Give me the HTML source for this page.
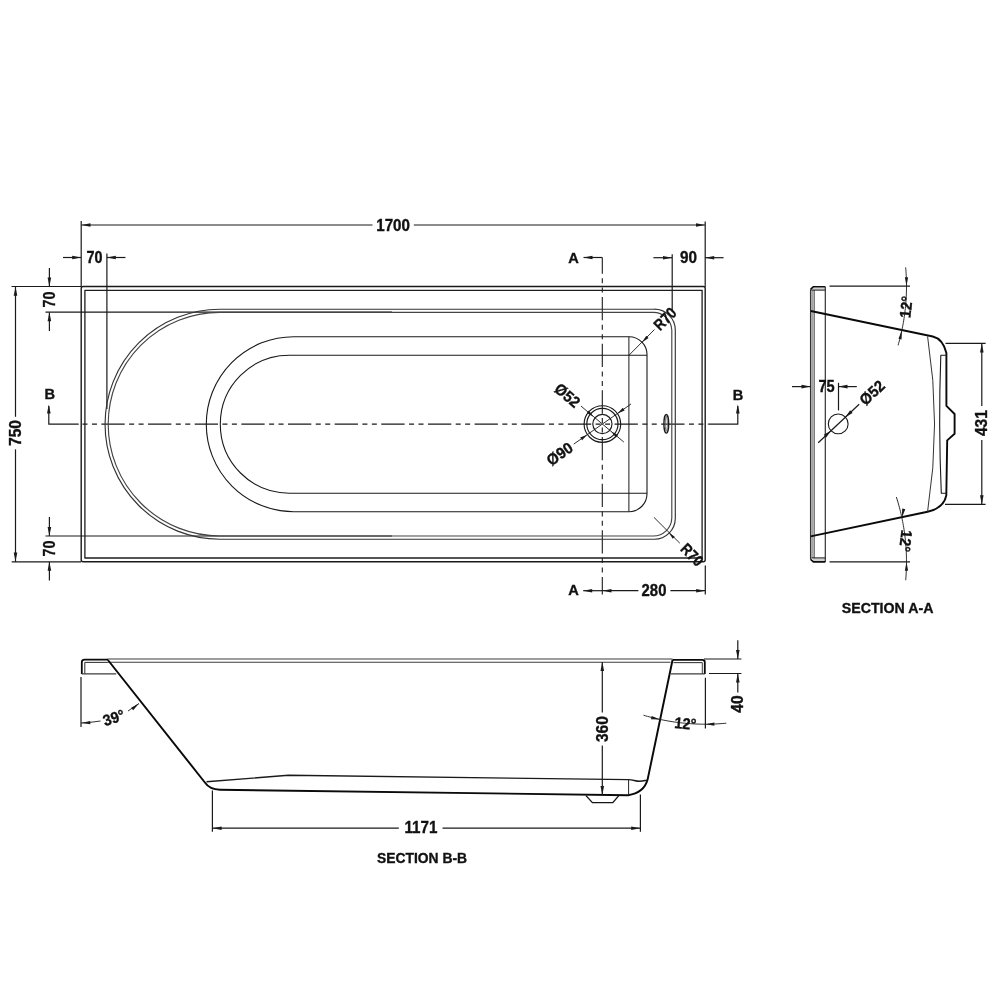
<!DOCTYPE html>
<html><head><meta charset="utf-8"><style>
html,body{margin:0;padding:0;background:#fff;width:1000px;height:1000px;overflow:hidden}
svg{display:block}
text{font-family:"Liberation Sans",sans-serif}
.t{will-change:transform}
</style></head><body>
<svg width="1000" height="1000" viewBox="0 0 1000 1000" style="will-change:transform">
<rect width="1000" height="1000" fill="#fff"/>
<line x1="81.20" y1="221.00" x2="81.20" y2="287.00" stroke="#1a1a1a" stroke-width="1.2" />
<line x1="705.20" y1="221.40" x2="705.20" y2="287.00" stroke="#1a1a1a" stroke-width="1.2" />
<line x1="81.50" y1="225.00" x2="372.50" y2="225.00" stroke="#1a1a1a" stroke-width="1.2" />
<line x1="413.80" y1="225.00" x2="705.00" y2="225.00" stroke="#1a1a1a" stroke-width="1.2" />
<path d="M81.50,225.00 L90.50,223.20 L90.50,226.80 Z" fill="#1a1a1a" stroke="none"/>
<path d="M705.00,225.00 L696.00,226.80 L696.00,223.20 Z" fill="#1a1a1a" stroke="none"/>
<text transform="translate(393.10,225.50) rotate(0)" x="0" y="5.33" text-anchor="middle" font-size="15.6" font-weight="bold" fill="#111" stroke="#111" stroke-width="0.35" textLength="33.7" lengthAdjust="spacingAndGlyphs">1700</text>
<line x1="106.90" y1="253.50" x2="106.90" y2="409.00" stroke="#1a1a1a" stroke-width="1.2" />
<line x1="63.00" y1="257.50" x2="81.00" y2="257.50" stroke="#1a1a1a" stroke-width="1.2" />
<path d="M81.20,257.50 L72.20,259.30 L72.20,255.70 Z" fill="#1a1a1a" stroke="none"/>
<line x1="107.00" y1="257.50" x2="125.50" y2="257.50" stroke="#1a1a1a" stroke-width="1.2" />
<path d="M106.80,257.50 L115.80,255.70 L115.80,259.30 Z" fill="#1a1a1a" stroke="none"/>
<text transform="translate(94.50,257.80) rotate(0)" x="0" y="5.33" text-anchor="middle" font-size="15.6" font-weight="bold" fill="#111" stroke="#111" stroke-width="0.35" textLength="16" lengthAdjust="spacingAndGlyphs">70</text>
<line x1="672.20" y1="254.20" x2="672.20" y2="312.00" stroke="#1a1a1a" stroke-width="1.2" />
<line x1="653.40" y1="257.70" x2="672.00" y2="257.70" stroke="#1a1a1a" stroke-width="1.2" />
<path d="M672.00,257.70 L663.00,259.50 L663.00,255.90 Z" fill="#1a1a1a" stroke="none"/>
<line x1="705.00" y1="257.70" x2="723.60" y2="257.70" stroke="#1a1a1a" stroke-width="1.2" />
<path d="M705.20,257.70 L714.20,255.90 L714.20,259.50 Z" fill="#1a1a1a" stroke="none"/>
<text transform="translate(688.50,257.80) rotate(0)" x="0" y="5.33" text-anchor="middle" font-size="15.6" font-weight="bold" fill="#111" stroke="#111" stroke-width="0.35" textLength="17" lengthAdjust="spacingAndGlyphs">90</text>
<text transform="translate(573.40,257.60) rotate(0)" x="0" y="4.98" text-anchor="middle" font-size="14.6" font-weight="bold" fill="#111" stroke="#111" stroke-width="0.35">A</text>
<line x1="583.50" y1="257.50" x2="602.30" y2="257.50" stroke="#1a1a1a" stroke-width="1.2" />
<path d="M583.50,257.50 L592.50,255.70 L592.50,259.30 Z" fill="#1a1a1a" stroke="none"/>
<text transform="translate(573.60,590.40) rotate(0)" x="0" y="4.98" text-anchor="middle" font-size="14.6" font-weight="bold" fill="#111" stroke="#111" stroke-width="0.35">A</text>
<line x1="583.20" y1="590.70" x2="602.30" y2="590.70" stroke="#1a1a1a" stroke-width="1.2" />
<path d="M583.20,590.70 L592.20,588.90 L592.20,592.50 Z" fill="#1a1a1a" stroke="none"/>
<line x1="602.30" y1="257.50" x2="602.30" y2="594.40" stroke="#1a1a1a" stroke-width="1.1" stroke-dasharray="23.3 4.45 5 4.45 5 4.45" stroke-dashoffset="7.1"/>
<line x1="602.30" y1="590.70" x2="638.40" y2="590.70" stroke="#1a1a1a" stroke-width="1.2" />
<line x1="670.40" y1="590.70" x2="705.00" y2="590.70" stroke="#1a1a1a" stroke-width="1.2" />
<path d="M602.50,590.70 L611.50,588.90 L611.50,592.50 Z" fill="#1a1a1a" stroke="none"/>
<path d="M705.20,590.70 L696.20,592.50 L696.20,588.90 Z" fill="#1a1a1a" stroke="none"/>
<line x1="705.30" y1="565.60" x2="705.30" y2="594.40" stroke="#1a1a1a" stroke-width="1.2" />
<text transform="translate(654.00,590.40) rotate(0)" x="0" y="5.33" text-anchor="middle" font-size="15.6" font-weight="bold" fill="#111" stroke="#111" stroke-width="0.35" textLength="24.8" lengthAdjust="spacingAndGlyphs">280</text>
<line x1="11.50" y1="286.50" x2="81.20" y2="286.50" stroke="#1a1a1a" stroke-width="1.2" />
<line x1="45.50" y1="312.20" x2="392.00" y2="312.20" stroke="#1a1a1a" stroke-width="1.2" />
<line x1="49.40" y1="268.00" x2="49.40" y2="286.50" stroke="#1a1a1a" stroke-width="1.2" />
<path d="M49.40,286.50 L47.60,277.50 L51.20,277.50 Z" fill="#1a1a1a" stroke="none"/>
<line x1="49.40" y1="312.50" x2="49.40" y2="331.00" stroke="#1a1a1a" stroke-width="1.2" />
<path d="M49.40,312.30 L51.20,321.30 L47.60,321.30 Z" fill="#1a1a1a" stroke="none"/>
<text transform="translate(49.50,299.50) rotate(-90)" x="0" y="5.33" text-anchor="middle" font-size="15.6" font-weight="bold" fill="#111" stroke="#111" stroke-width="0.35" textLength="16" lengthAdjust="spacingAndGlyphs">70</text>
<line x1="45.50" y1="536.00" x2="392.00" y2="536.00" stroke="#1a1a1a" stroke-width="1.2" />
<line x1="11.70" y1="561.80" x2="81.20" y2="561.80" stroke="#1a1a1a" stroke-width="1.2" />
<line x1="49.40" y1="517.00" x2="49.40" y2="536.00" stroke="#1a1a1a" stroke-width="1.2" />
<path d="M49.40,536.00 L47.60,527.00 L51.20,527.00 Z" fill="#1a1a1a" stroke="none"/>
<line x1="49.40" y1="562.00" x2="49.40" y2="580.60" stroke="#1a1a1a" stroke-width="1.2" />
<path d="M49.40,561.80 L51.20,570.80 L47.60,570.80 Z" fill="#1a1a1a" stroke="none"/>
<text transform="translate(49.45,548.50) rotate(-90)" x="0" y="5.33" text-anchor="middle" font-size="15.6" font-weight="bold" fill="#111" stroke="#111" stroke-width="0.35" textLength="16" lengthAdjust="spacingAndGlyphs">70</text>
<line x1="15.50" y1="287.00" x2="15.50" y2="416.80" stroke="#1a1a1a" stroke-width="1.2" />
<line x1="15.50" y1="449.30" x2="15.50" y2="561.80" stroke="#1a1a1a" stroke-width="1.2" />
<path d="M15.50,286.70 L17.30,295.70 L13.70,295.70 Z" fill="#1a1a1a" stroke="none"/>
<path d="M15.50,561.60 L13.70,552.60 L17.30,552.60 Z" fill="#1a1a1a" stroke="none"/>
<text transform="translate(15.30,433.00) rotate(-90)" x="0" y="5.33" text-anchor="middle" font-size="15.6" font-weight="bold" fill="#111" stroke="#111" stroke-width="0.35" textLength="26" lengthAdjust="spacingAndGlyphs">750</text>
<text transform="translate(49.75,394.20) rotate(0)" x="0" y="4.98" text-anchor="middle" font-size="14.6" font-weight="bold" fill="#111" stroke="#111" stroke-width="0.35">B</text>
<path d="M48.8,406 L48.8,424.2 L78.7,424.2" fill="none" stroke="#1a1a1a" stroke-width="1.2" stroke-linejoin="round" />
<path d="M48.80,404.50 L50.60,413.50 L47.00,413.50 Z" fill="#1a1a1a" stroke="none"/>
<text transform="translate(738.10,394.90) rotate(0)" x="0" y="4.98" text-anchor="middle" font-size="14.6" font-weight="bold" fill="#111" stroke="#111" stroke-width="0.35">B</text>
<path d="M737.8,406 L737.8,424.2 L708.4,424.2" fill="none" stroke="#1a1a1a" stroke-width="1.2" stroke-linejoin="round" />
<path d="M737.80,404.50 L739.60,413.50 L736.00,413.50 Z" fill="#1a1a1a" stroke="none"/>
<line x1="78.70" y1="424.20" x2="708.40" y2="424.20" stroke="#1a1a1a" stroke-width="1.3" stroke-dasharray="23.3 4.45 5 4.45 5 4.45" stroke-dashoffset="23.95"/>
<path d="M83.2,286.5 L703.2,286.5 Q705.2,286.5 705.2,288.5 L705.2,559.8 Q705.2,561.8 703.2,561.8 L83.2,561.8 Q81.2,561.8 81.2,559.8 L81.2,288.5 Q81.2,286.5 83.2,286.5 Z" fill="none" stroke="#1a1a1a" stroke-width="1.4" stroke-linejoin="round" />
<path d="M84.9,290.3 L702.1,290.3 L702.1,558 L84.9,558 Z" fill="none" stroke="#1e1e1e" stroke-width="1.3" stroke-linejoin="round" />
<path d="M220,309.2 A115,115 0 0 0 220,539.2 L654,539.2 A21,21 0 0 0 675.3,518 L675.3,330 A21,21 0 0 0 654,309.2 Z" fill="none" stroke="#333" stroke-width="1.15" stroke-linejoin="round" />
<path d="M220,312.4 A111.8,111.8 0 0 0 220,536 L653,536 A18.5,18.5 0 0 0 671.8,518 L671.8,330 A18.5,18.5 0 0 0 653,312.4 Z" fill="none" stroke="#444" stroke-width="1.15" stroke-linejoin="round" />
<path d="M293.8,336.7 A87.5,87.5 0 0 0 293.8,511.7 L629,511.7 A18,18 0 0 0 647,493.2 L647,355.3 A18,18 0 0 0 629,336.7 Z" fill="none" stroke="#1a1a1a" stroke-width="1.1" stroke-linejoin="round" />
<path d="M289.3,355.2 A69,69 0 0 0 289.3,493.2 L647,493.2 M647,355.2 L289.3,355.2" fill="none" stroke="#1a1a1a" stroke-width="1.1" stroke-linejoin="round" />
<line x1="628.90" y1="336.70" x2="628.90" y2="511.70" stroke="#1a1a1a" stroke-width="1.0" />
<line x1="628.90" y1="355.30" x2="654.50" y2="329.50" stroke="#1a1a1a" stroke-width="0.9" />
<path d="M641.80,342.60 L646.33,335.81 L648.59,338.07 Z" fill="#1a1a1a" stroke="none"/>
<text transform="translate(665.00,319.00) rotate(-45)" x="0" y="5.33" text-anchor="middle" font-size="15.6" font-weight="bold" fill="#111" stroke="#111" stroke-width="0.35" textLength="25" lengthAdjust="spacingAndGlyphs">R70</text>
<line x1="653.90" y1="517.30" x2="679.80" y2="543.20" stroke="#1a1a1a" stroke-width="0.9" />
<path d="M668.80,532.70 L674.74,536.66 L672.76,538.64 Z" fill="#1a1a1a" stroke="none"/>
<text transform="translate(692.00,554.80) rotate(45)" x="0" y="5.33" text-anchor="middle" font-size="15.6" font-weight="bold" fill="#111" stroke="#111" stroke-width="0.35" textLength="25" lengthAdjust="spacingAndGlyphs">R70</text>
<circle cx="602.4" cy="424.05" r="18.3" fill="none" stroke="#1a1a1a" stroke-width="1.15"/>
<circle cx="602.4" cy="424.05" r="15.6" fill="none" stroke="#1a1a1a" stroke-width="1.15"/>
<circle cx="602.4" cy="424.05" r="9.6" fill="none" stroke="#1a1a1a" stroke-width="1.15"/>
<line x1="580.95" y1="406.05" x2="623.85" y2="442.05" stroke="#1a1a1a" stroke-width="0.9" />
<path d="M593.59,416.66 L586.82,413.06 L588.87,410.61 Z" fill="#1a1a1a" stroke="none"/>
<path d="M611.21,431.44 L617.98,435.04 L615.93,437.49 Z" fill="#1a1a1a" stroke="none"/>
<line x1="573.73" y1="444.13" x2="631.07" y2="403.97" stroke="#1a1a1a" stroke-width="0.9" />
<path d="M617.55,413.44 L622.72,407.74 L624.67,410.53 Z" fill="#1a1a1a" stroke="none"/>
<path d="M587.25,434.66 L582.08,440.36 L580.13,437.57 Z" fill="#1a1a1a" stroke="none"/>
<text transform="translate(567.30,395.50) rotate(40)" x="0" y="5.33" text-anchor="middle" font-size="15.6" font-weight="bold" fill="#111" stroke="#111" stroke-width="0.35" textLength="28" lengthAdjust="spacingAndGlyphs">Ø52</text>
<text transform="translate(559.60,454.00) rotate(-35)" x="0" y="5.33" text-anchor="middle" font-size="15.6" font-weight="bold" fill="#111" stroke="#111" stroke-width="0.35" textLength="28" lengthAdjust="spacingAndGlyphs">Ø90</text>
<ellipse cx="666.3" cy="423.8" rx="2.4" ry="9.3" fill="none" stroke="#1a1a1a" stroke-width="1.4"/>
<ellipse cx="666.3" cy="423.8" rx="1.0" ry="7.5" fill="none" stroke="#555" stroke-width="0.8"/>
<rect x="811.2" y="289.5" width="2.6" height="268.5" fill="#d6d6d6"/>
<rect x="813" y="287.6" width="12.3" height="2.0" fill="#d0d0d0"/>
<rect x="813" y="558.4" width="12.3" height="2.6" fill="#d0d0d0"/>
<line x1="810.60" y1="289.30" x2="810.60" y2="559.40" stroke="#333" stroke-width="1.3" />
<line x1="825.30" y1="286.80" x2="825.30" y2="561.90" stroke="#2a2a2a" stroke-width="1.15" />
<path d="M825.3,286.8 L813.2,286.8 L810.6,289.3" fill="none" stroke="#0d0d0d" stroke-width="1.6" stroke-linejoin="round" />
<path d="M810.6,559.4 L813.4,561.9 L825.3,561.9" fill="none" stroke="#0d0d0d" stroke-width="1.6" stroke-linejoin="round" />
<line x1="812.30" y1="290.00" x2="812.30" y2="558.00" stroke="#888" stroke-width="0.8" />
<line x1="814.20" y1="290.00" x2="814.20" y2="558.00" stroke="#444" stroke-width="1.0" />
<line x1="811.50" y1="290.10" x2="825.30" y2="290.10" stroke="#222" stroke-width="1.1" />
<line x1="811.50" y1="557.90" x2="825.30" y2="557.90" stroke="#222" stroke-width="1.1" />
<path d="M810.8,311 L932.8,336.5 Q943,339 946.4,353 L946.4,405.8 L954.6,414 L954.6,433.8 L947.2,440.4 L946.3,495.4 Q944,508 927.6,511.8 L810.7,536.4" fill="none" stroke="#0a0a0a" stroke-width="1.9" stroke-linejoin="round" />
<path d="M927.6,336.5 Q941.5,424 927.6,511.6" fill="none" stroke="#333" stroke-width="1.0" stroke-linejoin="round" />
<path d="M946.4,355.2 L940.8,355.2 Q938.3,424 941.3,493.2 L946.3,493.2" fill="none" stroke="#1a1a1a" stroke-width="1.1" stroke-linejoin="round" />
<line x1="829.50" y1="286.20" x2="910.00" y2="286.20" stroke="#1a1a1a" stroke-width="1.2" />
<line x1="829.50" y1="561.80" x2="910.00" y2="561.80" stroke="#1a1a1a" stroke-width="1.2" />
<path d="M905.66,267.35 L905.83,269.32 L905.97,271.28 L906.10,273.25 L906.22,275.22 L906.31,277.18 L906.38,279.15 L906.44,281.12 L906.48,283.09 L906.50,285.06 L906.50,287.03 L906.48,289.00 L906.45,290.97 L906.39,292.94 L906.32,294.91 L906.23,296.88 L906.12,298.85 L906.00,300.81 L905.85,302.78 L905.69,304.74 L905.51,306.70 L905.31,308.66 L905.09,310.62 L904.85,312.58 L904.60,314.53 L904.33,316.48 L904.04,318.43 L903.73,320.38 L903.40,322.32 L903.06,324.26 L902.69,326.20 L902.31,328.13 L901.91,330.06 L901.50,331.99 L901.06,333.91 L900.61,335.83 L900.14,337.74 L899.65,339.65 L899.15,341.55 L898.62,343.45 L898.08,345.35" fill="none" stroke="#1a1a1a" stroke-width="0.9" stroke-linejoin="round" />
<path d="M906.50,286.20 L904.90,277.20 L908.10,277.20 Z" fill="#1a1a1a" stroke="none"/>
<path d="M901.87,330.28 L901.56,339.41 L898.43,338.75 Z" fill="#1a1a1a" stroke="none"/>
<text transform="translate(906.20,307.00) rotate(-84)" x="0" y="5.33" text-anchor="middle" font-size="15.6" font-weight="bold" fill="#111" stroke="#111" stroke-width="0.35" textLength="22" lengthAdjust="spacingAndGlyphs">12°</text>
<path d="M896.35,496.99 L896.99,499.00 L897.60,501.02 L898.20,503.04 L898.77,505.07 L899.32,507.11 L899.86,509.15 L900.37,511.19 L900.86,513.25 L901.34,515.30 L901.79,517.36 L902.22,519.43 L902.63,521.49 L903.02,523.57 L903.39,525.64 L903.74,527.72 L904.07,529.81 L904.38,531.89 L904.67,533.98 L904.93,536.07 L905.18,538.17 L905.40,540.27 L905.61,542.36 L905.79,544.47 L905.95,546.57 L906.09,548.67 L906.21,550.78 L906.31,552.89 L906.39,554.99 L906.45,557.10 L906.48,559.21 L906.50,561.32 L906.49,563.43 L906.47,565.54 L906.42,567.65 L906.35,569.75 L906.26,571.86 L906.15,573.97 L906.02,576.07 L905.87,578.18 L905.69,580.28" fill="none" stroke="#1a1a1a" stroke-width="0.9" stroke-linejoin="round" />
<path d="M906.50,561.80 L908.10,570.80 L904.90,570.80 Z" fill="#1a1a1a" stroke="none"/>
<path d="M901.87,517.72 L902.17,508.59 L905.30,509.25 Z" fill="#1a1a1a" stroke="none"/>
<text transform="translate(905.60,541.00) rotate(96)" x="0" y="5.33" text-anchor="middle" font-size="15.6" font-weight="bold" fill="#111" stroke="#111" stroke-width="0.35" textLength="22" lengthAdjust="spacingAndGlyphs">12°</text>
<line x1="945.50" y1="343.40" x2="985.60" y2="343.40" stroke="#1a1a1a" stroke-width="1.2" />
<line x1="945.00" y1="504.40" x2="985.60" y2="504.40" stroke="#1a1a1a" stroke-width="1.2" />
<line x1="981.80" y1="344.00" x2="981.80" y2="406.00" stroke="#1a1a1a" stroke-width="1.2" />
<line x1="981.80" y1="440.00" x2="981.80" y2="504.00" stroke="#1a1a1a" stroke-width="1.2" />
<path d="M981.80,343.60 L983.60,352.60 L980.00,352.60 Z" fill="#1a1a1a" stroke="none"/>
<path d="M981.80,504.20 L980.00,495.20 L983.60,495.20 Z" fill="#1a1a1a" stroke="none"/>
<text transform="translate(981.90,423.10) rotate(-90)" x="0" y="5.33" text-anchor="middle" font-size="15.6" font-weight="bold" fill="#111" stroke="#111" stroke-width="0.35" textLength="26" lengthAdjust="spacingAndGlyphs">431</text>
<line x1="792.00" y1="386.60" x2="810.50" y2="386.60" stroke="#1a1a1a" stroke-width="1.2" />
<path d="M810.50,386.60 L801.50,388.40 L801.50,384.80 Z" fill="#1a1a1a" stroke="none"/>
<line x1="838.50" y1="382.80" x2="838.50" y2="410.40" stroke="#1a1a1a" stroke-width="1.2" />
<line x1="838.50" y1="386.60" x2="856.80" y2="386.60" stroke="#1a1a1a" stroke-width="1.2" />
<path d="M838.50,386.60 L847.50,384.80 L847.50,388.40 Z" fill="#1a1a1a" stroke="none"/>
<text transform="translate(826.50,386.70) rotate(0)" x="0" y="5.33" text-anchor="middle" font-size="15.6" font-weight="bold" fill="#111" stroke="#111" stroke-width="0.35" textLength="16.2" lengthAdjust="spacingAndGlyphs">75</text>
<circle cx="838.2" cy="423.9" r="9.9" fill="none" stroke="#1a1a1a" stroke-width="1.1"/>
<line x1="818.20" y1="442.80" x2="859.20" y2="404.20" stroke="#1a1a1a" stroke-width="1.2" />
<path d="M830.89,430.72 L826.26,437.49 L823.81,434.86 Z" fill="#1a1a1a" stroke="none"/>
<path d="M845.51,417.08 L850.14,410.31 L852.59,412.94 Z" fill="#1a1a1a" stroke="none"/>
<text transform="translate(872.10,392.70) rotate(-43)" x="0" y="5.33" text-anchor="middle" font-size="15.6" font-weight="bold" fill="#111" stroke="#111" stroke-width="0.35" textLength="28" lengthAdjust="spacingAndGlyphs">Ø52</text>
<text transform="translate(887.60,608.10) rotate(0)" x="0" y="5.23" text-anchor="middle" font-size="15.3" font-weight="bold" fill="#111" stroke="#111" stroke-width="0.35" textLength="91.7" lengthAdjust="spacingAndGlyphs">SECTION A-A</text>
<line x1="107.60" y1="659.00" x2="672.60" y2="659.00" stroke="#3c3c3c" stroke-width="1.2" />
<path d="M81.8,674 L81.8,662.2 Q81.8,659.6 84.5,659.6 L108,659.6" fill="none" stroke="#0a0a0a" stroke-width="1.8" stroke-linejoin="round" />
<line x1="84.80" y1="662.30" x2="84.80" y2="673.80" stroke="#3c3c3c" stroke-width="1.1" />
<line x1="81.80" y1="673.80" x2="116.20" y2="673.80" stroke="#3c3c3c" stroke-width="1.2" />
<line x1="84.80" y1="662.40" x2="107.80" y2="662.40" stroke="#3c3c3c" stroke-width="1.1" />
<line x1="107.80" y1="662.30" x2="670.50" y2="662.20" stroke="#3c3c3c" stroke-width="1.1" />
<path d="M672.6,659.8 L702.3,659.8 Q704.8,659.8 704.8,662.2 L704.8,673.9" fill="none" stroke="#0a0a0a" stroke-width="1.8" stroke-linejoin="round" />
<line x1="673.50" y1="662.60" x2="702.30" y2="662.60" stroke="#3c3c3c" stroke-width="1.1" />
<line x1="702.30" y1="662.60" x2="702.30" y2="673.90" stroke="#3c3c3c" stroke-width="1.0" />
<line x1="671.00" y1="673.90" x2="704.80" y2="673.90" stroke="#3c3c3c" stroke-width="1.2" />
<path d="M107.9,660 L204.5,782 Q209.5,789.5 220,789.8 L628,795.2 Q644,793 647.6,779.6 L672.6,659.8" fill="none" stroke="#0a0a0a" stroke-width="1.95" stroke-linejoin="round" />
<path d="M586,795.6 L592.4,802.6 L612.8,802.6 L618.8,795.6" fill="none" stroke="#151515" stroke-width="1.4" stroke-linejoin="round" />
<path d="M206.5,781.8 L288.4,775.3 L628.6,779.6 C633,779.7 635.5,781.3 639.5,781.3 C643,781.3 645,780.5 647.4,780.1" fill="none" stroke="#1a1a1a" stroke-width="1.4" stroke-linejoin="round" />
<line x1="628.60" y1="779.40" x2="628.60" y2="795.00" stroke="#222" stroke-width="1.0" />
<line x1="81.00" y1="677.00" x2="81.00" y2="727.00" stroke="#1a1a1a" stroke-width="1.2" />
<path d="M81,723 Q91,722.5 100.5,721" fill="none" stroke="#1a1a1a" stroke-width="0.9" stroke-linejoin="round" />
<path d="M128,711 L139,703.5" fill="none" stroke="#1a1a1a" stroke-width="0.9" stroke-linejoin="round" />
<path d="M81.30,723.00 L90.21,720.95 L90.37,724.15 Z" fill="#1a1a1a" stroke="none"/>
<path d="M139.20,703.30 L133.15,710.15 L131.16,707.65 Z" fill="#1a1a1a" stroke="none"/>
<text transform="translate(113.80,717.80) rotate(-18)" x="0" y="5.33" text-anchor="middle" font-size="15.6" font-weight="bold" fill="#111" stroke="#111" stroke-width="0.35" textLength="22" lengthAdjust="spacingAndGlyphs">39°</text>
<line x1="602.30" y1="662.00" x2="602.30" y2="712.60" stroke="#1a1a1a" stroke-width="1.2" />
<line x1="602.30" y1="745.60" x2="602.30" y2="795.00" stroke="#1a1a1a" stroke-width="1.2" />
<path d="M602.30,662.00 L604.10,671.00 L600.50,671.00 Z" fill="#1a1a1a" stroke="none"/>
<path d="M602.30,795.00 L600.50,786.00 L604.10,786.00 Z" fill="#1a1a1a" stroke="none"/>
<text transform="translate(602.90,729.10) rotate(-90)" x="0" y="5.33" text-anchor="middle" font-size="15.6" font-weight="bold" fill="#111" stroke="#111" stroke-width="0.35" textLength="26" lengthAdjust="spacingAndGlyphs">360</text>
<line x1="212.40" y1="790.40" x2="212.40" y2="831.80" stroke="#1a1a1a" stroke-width="1.2" />
<line x1="640.40" y1="794.60" x2="640.40" y2="831.80" stroke="#1a1a1a" stroke-width="1.2" />
<line x1="212.50" y1="828.20" x2="398.80" y2="828.20" stroke="#1a1a1a" stroke-width="1.2" />
<line x1="442.50" y1="828.20" x2="640.40" y2="828.20" stroke="#1a1a1a" stroke-width="1.2" />
<path d="M212.60,828.20 L221.60,826.40 L221.60,830.00 Z" fill="#1a1a1a" stroke="none"/>
<path d="M640.20,828.20 L631.20,830.00 L631.20,826.40 Z" fill="#1a1a1a" stroke="none"/>
<text transform="translate(421.00,828.10) rotate(0)" x="0" y="5.33" text-anchor="middle" font-size="15.6" font-weight="bold" fill="#111" stroke="#111" stroke-width="0.35" textLength="33" lengthAdjust="spacingAndGlyphs">1171</text>
<line x1="704.00" y1="659.00" x2="741.40" y2="659.00" stroke="#1a1a1a" stroke-width="1.2" />
<line x1="709.00" y1="673.50" x2="741.40" y2="673.50" stroke="#1a1a1a" stroke-width="1.2" />
<line x1="737.80" y1="640.20" x2="737.80" y2="659.00" stroke="#1a1a1a" stroke-width="1.2" />
<path d="M737.80,659.00 L736.00,650.00 L739.60,650.00 Z" fill="#1a1a1a" stroke="none"/>
<line x1="737.80" y1="673.50" x2="737.80" y2="692.40" stroke="#1a1a1a" stroke-width="1.2" />
<path d="M737.80,673.50 L739.60,682.50 L736.00,682.50 Z" fill="#1a1a1a" stroke="none"/>
<text transform="translate(737.80,704.10) rotate(-90)" x="0" y="5.33" text-anchor="middle" font-size="15.6" font-weight="bold" fill="#111" stroke="#111" stroke-width="0.35" textLength="17.4" lengthAdjust="spacingAndGlyphs">40</text>
<line x1="705.40" y1="677.80" x2="705.40" y2="728.40" stroke="#1a1a1a" stroke-width="1.2" />
<path d="M643.54,715.23 L645.55,715.82 L647.56,716.38 L649.58,716.93 L651.60,717.45 L653.63,717.96 L655.67,718.45 L657.70,718.91 L659.75,719.36 L661.79,719.79 L663.84,720.20 L665.90,720.59 L667.95,720.96 L670.02,721.31 L672.08,721.64 L674.15,721.95 L676.22,722.24 L678.29,722.51 L680.37,722.76 L682.44,722.99 L684.52,723.20 L686.61,723.39 L688.69,723.56 L690.78,723.71 L692.86,723.84 L694.95,723.95 L697.04,724.04 L699.13,724.11 L701.22,724.16 L703.31,724.19 L705.40,724.20 L707.49,724.19 L709.58,724.16 L711.67,724.11 L713.76,724.04 L715.85,723.95 L717.94,723.84 L720.02,723.71 L722.11,723.56 L724.19,723.39 L726.28,723.20" fill="none" stroke="#1a1a1a" stroke-width="0.9" stroke-linejoin="round" />
<path d="M705.40,724.20 L714.40,722.60 L714.40,725.80 Z" fill="#1a1a1a" stroke="none"/>
<path d="M660.12,719.44 L650.96,719.23 L651.67,715.91 Z" fill="#1a1a1a" stroke="none"/>
<text transform="translate(685.30,723.60) rotate(5)" x="0" y="5.33" text-anchor="middle" font-size="15.6" font-weight="bold" fill="#111" stroke="#111" stroke-width="0.35" textLength="22" lengthAdjust="spacingAndGlyphs">12°</text>
<text transform="translate(422.00,858.10) rotate(0)" x="0" y="5.23" text-anchor="middle" font-size="15.3" font-weight="bold" fill="#111" stroke="#111" stroke-width="0.35" textLength="90" lengthAdjust="spacingAndGlyphs">SECTION B-B</text>
</svg></body></html>
